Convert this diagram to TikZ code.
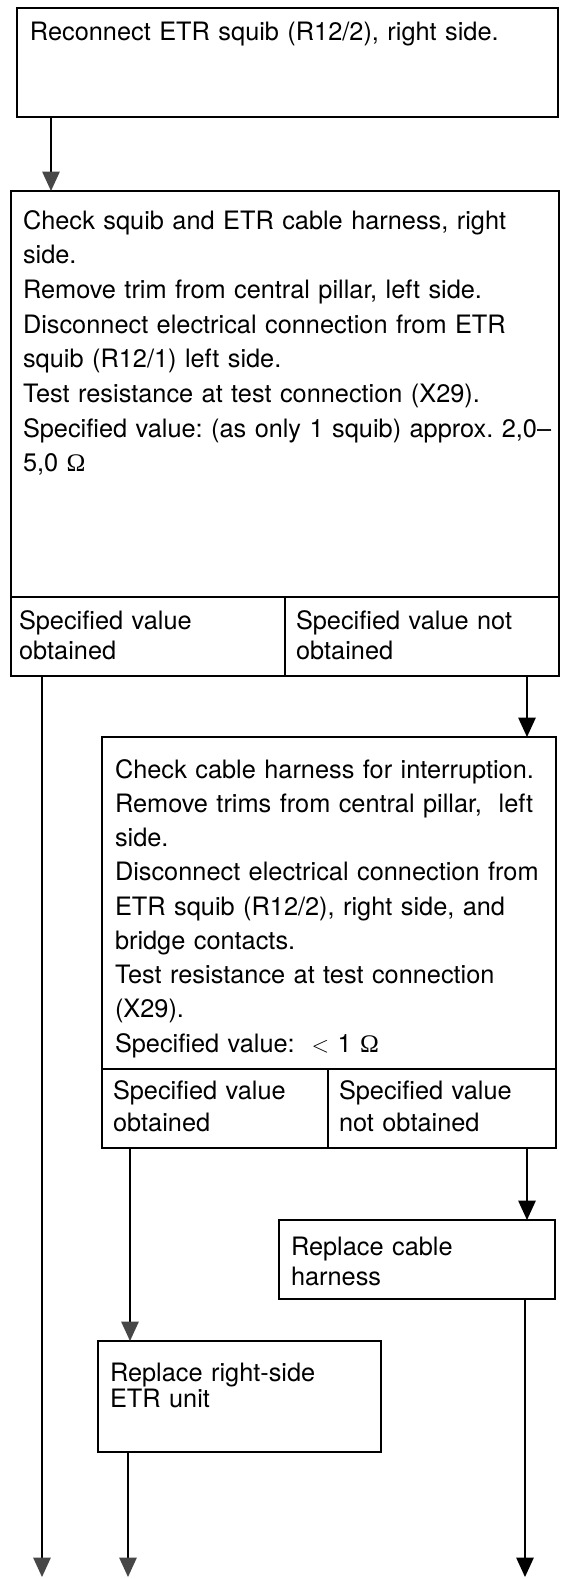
\documentclass[tikz,border=0pt]{standalone}
\usepackage{fontspec}
\setmainfont{TeX Gyre Heros}
\newfontfamily\ohmfont{Liberation Serif}
\usetikzlibrary{arrows.meta,fit}
\frenchspacing

\begin{document}
\begin{tikzpicture}[x=0.75pt,y=-0.75pt,
  box/.style={draw, line width=1.5pt, inner sep=0pt, outer sep=0pt},
  txt/.style={anchor=base west, inner sep=0pt, outer sep=0pt, align=left,
    text width=420pt, font=\fontsize{19}{26}\selectfont},
  celltxt/.style={txt, font=\fontsize{19}{22.5}\selectfont},
  flow/.style={line width=1.2pt, -{Triangle[length=14.5pt,width=13pt]}},
  flowgray/.style={line width=1.2pt, -{Triangle[length=14.5pt,width=13pt,color=black!72]}}
]
\useasboundingbox (0,0) rectangle (561,1579);
\fill[white] (0,0) rectangle (561,1579);

% first step
\node[box, fit={(17,8) (558,117)}] (b1) {};
\node[txt] (t1) at (30,40) {Reconnect ETR squib (R12/2), right side.};

% check of squib and harness, with its two outcomes
\node[box, fit={(11,191) (559,597)}] (b2) {};
\node[txt] (t2) at (23,229) {Check squib and ETR cable harness, right\\
side.\\
Remove trim from central pillar, left side.\\
Disconnect electrical connection from ETR\\
squib (R12/1) left side.\\
Test resistance at test connection (X29).\\
Specified value: (as only 1 squib) approx. 2,0–\\
5,0 {\ohmfont Ω}};
\node[box, fit={(11,597) (285,676)}] (c2a) {};
\node[box, fit={(285,597) (559,676)}] (c2b) {};
\node[celltxt] (t2a) at (19,629) {Specified value\\obtained};
\node[celltxt] (t2b) at (296,629) {Specified value not\\obtained};

% interruption check, with its two outcomes
\node[box, fit={(102,737) (556,1069)}] (b3) {};
\node[txt, font=\fontsize{19}{25.7}\selectfont] (t3) at (115,778) {Check cable harness for interruption.\\
Remove trims from central pillar,\ \ left\\
side.\\
Disconnect electrical connection from\\
ETR squib (R12/2), right side, and\\
bridge contacts.\\
Test resistance at test connection\\
(X29).\\
Specified value:\ \ $<$\ 1 {\ohmfont Ω}};
\node[box, fit={(102,1069) (328,1148)}] (c3a) {};
\node[box, fit={(328,1069) (556,1148)}] (c3b) {};
\node[celltxt, font=\fontsize{19}{24}\selectfont] (t3a) at (113,1099) {Specified value\\obtained};
\node[celltxt, font=\fontsize{19}{24}\selectfont] (t3b) at (339,1099) {Specified value\\not obtained};

% repairs
\node[box, fit={(279,1220) (555,1299)}] (b4) {};
\node[celltxt] (t4) at (291,1255) {Replace cable\\harness};
\node[box, fit={(98,1341) (381,1452)}] (b5) {};
\node[txt, font=\fontsize{19}{19.5}\selectfont] (t5) at (110,1381) {Replace right-side\\ETR unit};

% connectors
\coordinate (x1) at (51,0);
\coordinate (xr) at (527,0);
\coordinate (xm) at (130,0);
\coordinate (endL) at (42,1577);
\coordinate (endM) at (128,1577);
\coordinate (endR) at (525,1577);

\draw[flowgray] (b1.south -| x1) -- (b2.north -| x1);
\draw[flowgray] (c2a.south -| endL) -- (endL);
\draw[flow] (c2b.south -| xr) -- (b3.north -| xr);
\draw[flowgray] (c3a.south -| xm) -- (b5.north -| xm);
\draw[flow] (c3b.south -| xr) -- (b4.north -| xr);
\draw[flowgray] (b5.south -| endM) -- (endM);
\draw[flow] (b4.south -| endR) -- (endR);
\end{tikzpicture}
\end{document}
